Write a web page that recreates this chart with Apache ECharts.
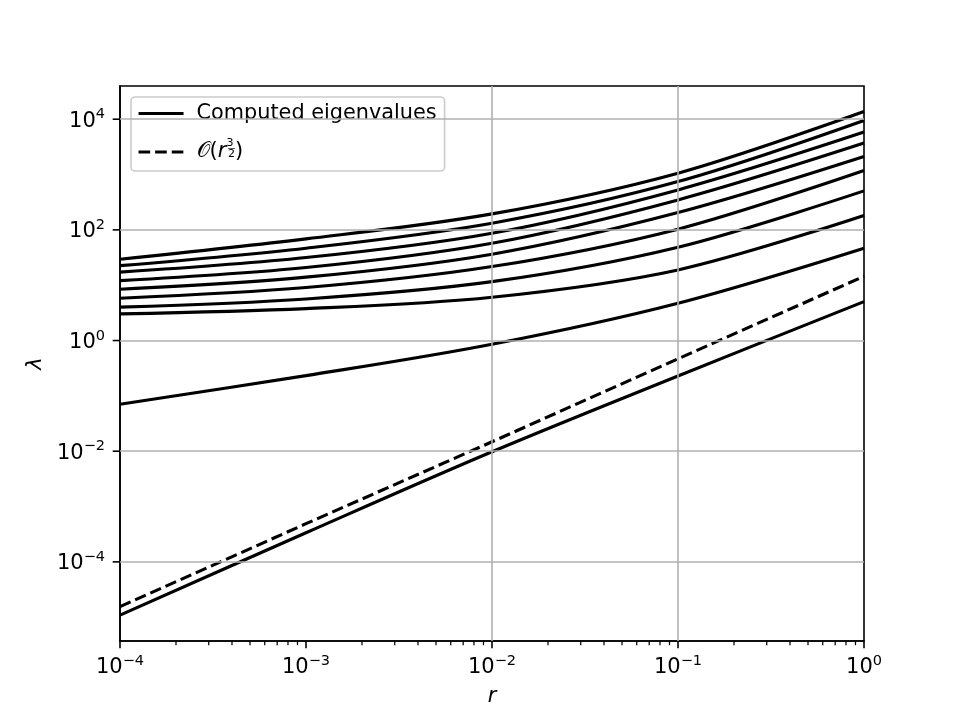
<!DOCTYPE html>
<html>
<head>
<meta charset="utf-8">
<script src="https://cdn.jsdelivr.net/npm/echarts@6/dist/echarts.min.js"></script>
<style>
html, body { margin: 0; padding: 0; background: #fff; }
#chart { width: 960px; height: 720px; }
</style>
</head>
<body>
<div id="chart"></div>
<script>
var FONT = 'DejaVu Sans';

var rValues = [1e-4, 1e-3, 1e-2, 1e-1, 1];

// computed eigenvalues, top curve first
var eig1 = [29.5, 68.7, 194.5, 1059, 13770];
var eig2 = [22.6, 46.7, 132, 746, 9480];
var eig3 = [17.2, 31.6, 87.1, 528, 5850];
var eig4 = [12.1, 20.9, 57.4, 348, 3700];
var eig5 = [8.47, 14.0, 36.4, 206, 2120];
var eig6 = [5.82, 9.06, 21.7, 103, 1180];
var eig7 = [4.01, 5.65, 11.6, 48.6, 507];
var eig8 = [3.03, 3.78, 6.07, 18.9, 182];
var eig9 = [0.0705, 0.232, 0.857, 4.73, 46.7];
var eig10 = [1.09e-5, 3.36e-4, 9.77e-3, 0.229, 5.05];
// O(r^{3/2}) reference line
var refLine = [1.55e-5, 4.9e-4, 0.0148, 0.468, 14.5];

var eigenCurves = [eig1, eig2, eig3, eig4, eig5, eig6, eig7, eig8, eig9, eig10];
var seriesNames = ['Computed eigenvalues', 'O(r^3/2)'];

// axes (y is drawn in log10 space)
var xMin = 1e-4, xMax = 1;
var yMinExp = -5.43, yMaxExp = 4.6;
var xGridLines = [1e-3, 1e-2, 1e-1];
var yTickExp = [-4, -2, 0, 2, 4];
var minorDecades = [1e-4, 1e-3, 1e-2, 1e-1];
var minorMultiples = [2, 3, 4, 5, 6, 7, 8, 9];

function expText(n) {
    return n < 0 ? '\u2212' + (-n) : '' + n;
}
function toPoints(vals) {
    return rValues.map(function (r, i) { return [r, Math.log10(vals[i])]; });
}

var xLabelRich = {
    b: { fontFamily: FONT, fontSize: 21, color: '#000', height: 27, lineHeight: 27, verticalAlign: 'top' },
    s: { fontFamily: FONT, fontSize: 14.5, color: '#000', height: 14, lineHeight: 27, verticalAlign: 'top' }
};
var yLabelRich = {
    b: { fontFamily: FONT, fontSize: 21, color: '#000', height: 27, lineHeight: 31, verticalAlign: 'bottom' },
    s: { fontFamily: FONT, fontSize: 14.5, color: '#000', height: 22, lineHeight: 31, verticalAlign: 'top' }
};

var minorTicks = [];
minorDecades.forEach(function (d) {
    minorMultiples.forEach(function (m) { minorTicks.push([m * d, yMinExp]); });
});

var series = [];
// grid lines
series.push({
    type: 'line', name: 'grid', data: [], silent: true, z: 1,
    markLine: {
        silent: true, symbol: 'none', animation: false,
        label: { show: false },
        lineStyle: { color: '#b0b0b0', width: 1.6, type: 'solid' },
        data: xGridLines.map(function (v) { return { xAxis: v }; })
            .concat(yTickExp.map(function (e) { return { yAxis: e }; }))
    }
});
eigenCurves.forEach(function (c) {
    series.push({
        type: 'line', name: seriesNames[0], data: toPoints(c),
        smooth: 0.33, symbol: 'none', z: 3,
        lineStyle: { color: '#000', width: 3.1 },
        itemStyle: { color: '#000' }
    });
});
series.push({
    type: 'line', name: seriesNames[1], data: toPoints(refLine),
    symbol: 'none', z: 3,
    lineStyle: { color: '#000', width: 3.1, type: [11.6, 5] },
    itemStyle: { color: '#000' }
});
// minor ticks on the log x axis
series.push({
    type: 'custom', name: 'xminor', silent: true, clip: false, z: 5,
    data: minorTicks, encode: { x: 0, y: 1 },
    renderItem: function (params, api) {
        var p = api.coord([api.value(0), api.value(1)]);
        return { type: 'line', shape: { x1: p[0], y1: p[1], x2: p[0], y2: p[1] + 4.2 },
            style: { stroke: '#000', lineWidth: 1.25 } };
    }
});
// major ticks on the y axis
series.push({
    type: 'custom', name: 'ymajor', silent: true, clip: false, z: 5,
    data: yTickExp.map(function (e) { return [xMin, e]; }), encode: { x: 0, y: 1 },
    renderItem: function (params, api) {
        var p = api.coord([api.value(0), api.value(1)]);
        return { type: 'line', shape: { x1: p[0] - 7.3, y1: p[1], x2: p[0], y2: p[1] },
            style: { stroke: '#000', lineWidth: 1.6 } };
    }
});

var chart = echarts.init(document.getElementById('chart'), null, { renderer: 'canvas' });
chart.setOption({
    animation: false,
    backgroundColor: '#fff',
    grid: {
        left: 120, right: 96, top: 86, bottom: 79,
        containLabel: false, outerBoundsMode: 'none',
        show: true, borderColor: '#000', borderWidth: 1.6, backgroundColor: 'transparent'
    },
    legend: {
        data: seriesNames,
        left: 131, top: 97, orient: 'vertical',
        padding: [2.5, 8, 5, 6],
        itemGap: 9.7, itemWidth: 45, itemHeight: 14,
        backgroundColor: 'rgba(255,255,255,0.8)',
        borderColor: '#cccccc', borderWidth: 1.6, borderRadius: 4,
        lineStyle: { width: 3.1 },
        itemStyle: { color: 'rgba(0,0,0,0)', borderWidth: 0, opacity: 0 },
        selectedMode: false,
        formatter: function (name) {
            if (name === seriesNames[1]) {
                return '{c|\uD835\uDCAA}{t|(}{r|r}{n|3}{m|\u2014}{d|2}{t|)}';
            }
            return name;
        },
        textStyle: {
            fontFamily: FONT, fontSize: 20.8, color: '#000', lineHeight: 28,
            padding: [0, 0, 0, 8],
            rich: {
                c: { fontFamily: FONT, fontSize: 21, color: '#000', height: 28, verticalAlign: 'top' },
                t: { fontFamily: FONT, fontSize: 21, color: '#000', height: 28, verticalAlign: 'top' },
                r: { fontFamily: FONT, fontSize: 21, fontStyle: 'italic', color: '#000', height: 28, verticalAlign: 'top' },
                n: { fontFamily: FONT, fontSize: 11, color: '#000', height: 9.4, verticalAlign: 'top', width: 1 },
                m: { fontFamily: FONT, fontSize: 8, color: '#000', height: 22, verticalAlign: 'top', width: 0.5 },
                d: { fontFamily: FONT, fontSize: 11, color: '#000', height: 32.6, verticalAlign: 'top' }
            }
        }
    },
    xAxis: [{
        type: 'log', logBase: 10, min: xMin, max: xMax,
        name: 'r', nameLocation: 'middle', nameGap: 41,
        nameTextStyle: { fontFamily: FONT, fontSize: 21, fontStyle: 'italic', color: '#000' },
        axisLine: { show: true, onZero: false, lineStyle: { color: '#000', width: 1.6 } },
        axisTick: { show: true, inside: false, length: 7.3, lineStyle: { color: '#000', width: 1.6 } },
        axisLabel: {
            margin: 13, rich: xLabelRich,
            formatter: function (v) {
                return '{b|10}{s|' + expText(Math.round(Math.log10(v))) + '}';
            }
        },
        splitLine: { show: false },
        minorTick: { show: false }
    }],
    yAxis: [{
        type: 'value', min: yMinExp, max: yMaxExp,
        name: '\u03bb', nameLocation: 'middle', nameGap: 72, nameRotate: 90,
        nameTextStyle: { fontFamily: FONT, fontSize: 21, fontStyle: 'italic', color: '#000' },
        axisLine: { show: true, onZero: false, lineStyle: { color: '#000', width: 1.6 } },
        axisTick: { show: false },
        axisLabel: {
            margin: 15, rich: yLabelRich, showMinLabel: true, showMaxLabel: true,
            formatter: function (v) {
                var n = Math.round(v);
                if (Math.abs(v - n) > 1e-6 || yTickExp.indexOf(n) < 0) return '';
                return '{b|10}{s|' + expText(n) + '}';
            }
        },
        splitLine: { show: false }
    }],
    series: series
});
</script>
</body>
</html>
